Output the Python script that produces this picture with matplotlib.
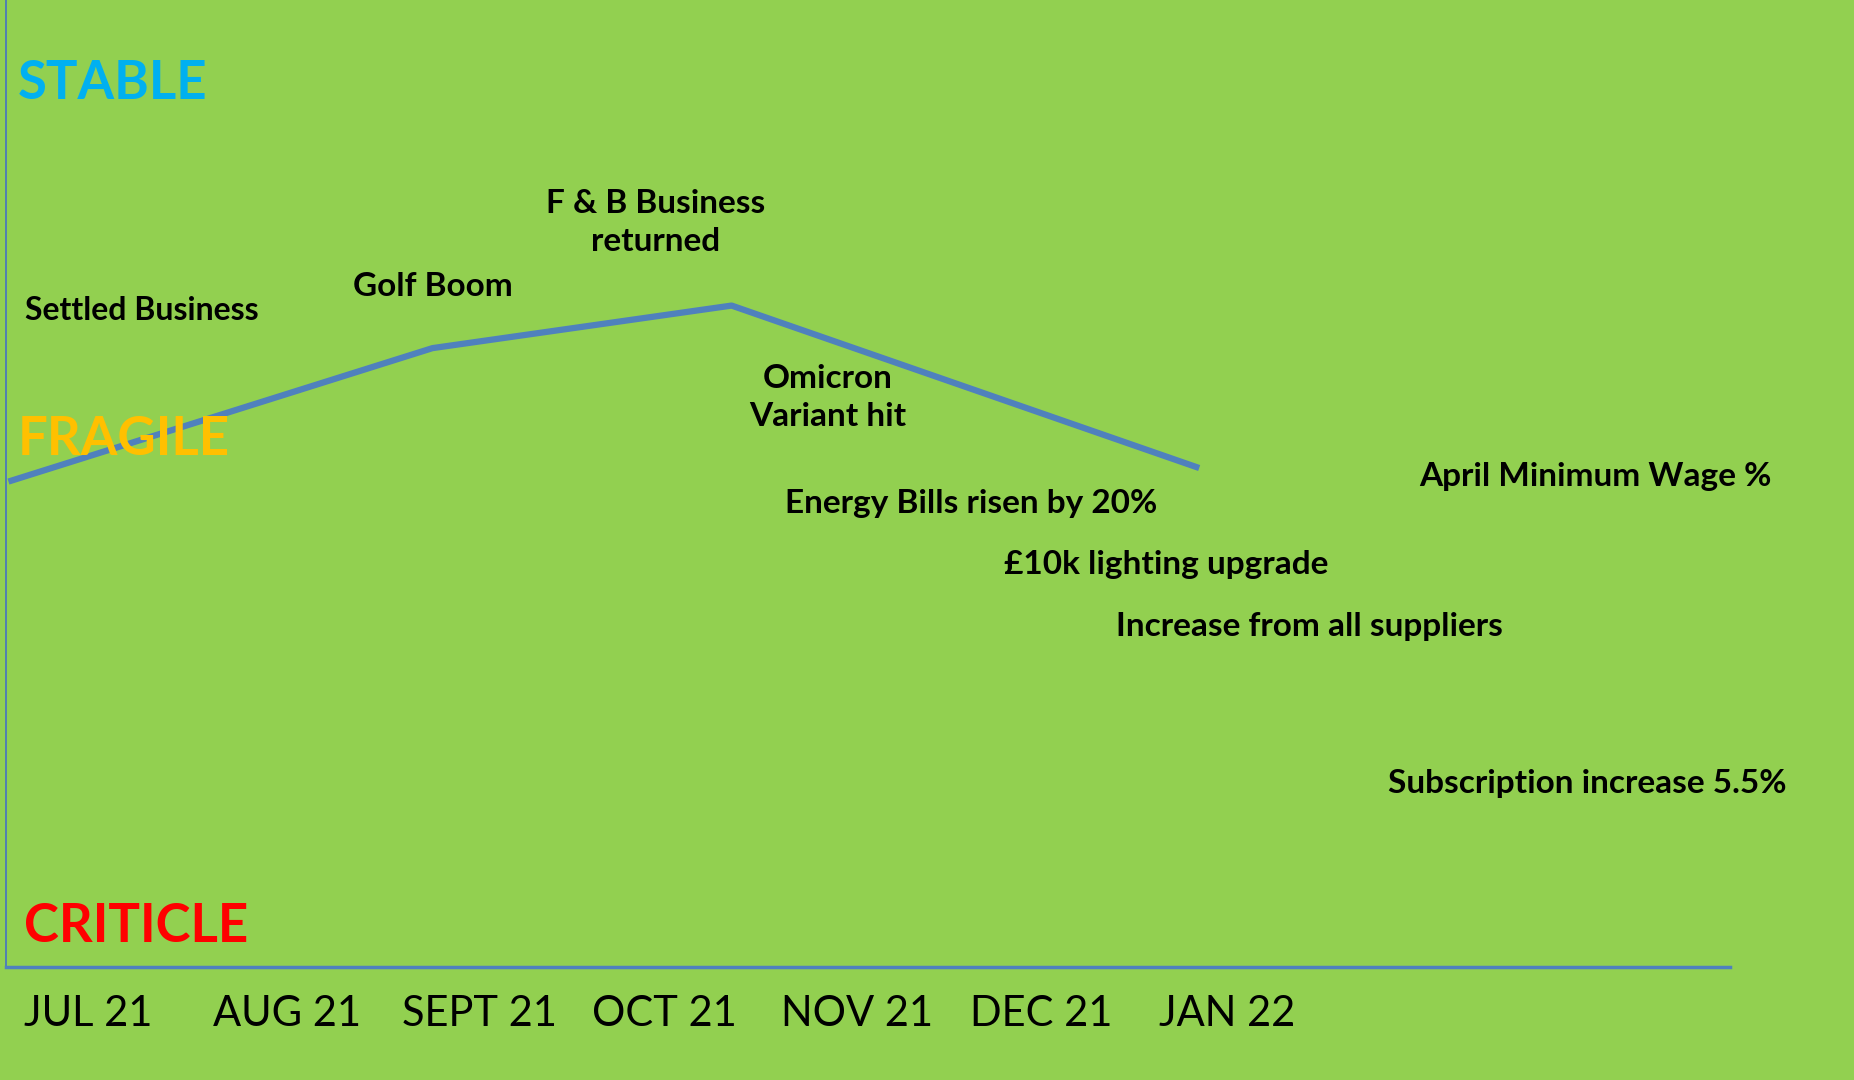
import matplotlib.pyplot as plt

# months on the x axis (tick i = month i)
months = ["JUL 21", "AUG 21", "SEPT 21", "OCT 21", "NOV 21", "DEC 21", "JAN 22"]

# trend line (month position, stability level 0-10)
trend_x = [-0.08, 2.16, 3.74, 6.21]
trend_y = [5.02, 6.40, 6.84, 5.16]

# level labels
levels = ["STABLE", "FRAGILE", "CRITICLE"]
level_x = [-0.03, -0.03, 0.0]
level_y = [9.14, 5.45, 0.42]
level_colors = ["#00B0F0", "#FFC000", "#FF0000"]

# event notes: text, x, y, alignment
notes = ["Settled Business", "Golf Boom", "F & B Business\nreturned",
         "Omicron\nVariant hit", "Energy Bills risen by 20%",
         "£10k lighting upgrade", "Increase from all suppliers",
         "April Minimum Wage %", "Subscription increase 5.5%"]
note_x = [0.007, 2.16, 3.34, 4.25, 4.02, 5.18, 5.77, 7.37, 7.21]
note_y = [6.79, 7.04, 7.70, 5.89, 4.79, 4.16, 3.52, 5.07, 1.90]
note_ha = ["left", "center", "center", "center", "left", "left", "left", "left", "left"]
note_size = [23, 24, 24, 24, 24, 24, 24, 24, 24]

green = "#92D050"
plt.rcParams["font.family"] = ["Lato", "DejaVu Sans"]

fig = plt.figure(figsize=(18.54, 10.8), dpi=100, facecolor=green)
ax = fig.add_axes([6 / 1854, 113 / 1080, 1724 / 1854, 967 / 1080])
ax.set_facecolor(green)
ax.set_xlim(-0.093, 9.014)
ax.set_ylim(0, 10)

for s in ["top", "right"]:
    ax.spines[s].set_visible(False)
ax.spines["left"].set_color("#4472C4")
ax.spines["left"].set_linewidth(1.2)
ax.spines["bottom"].set_color("#4F81BD")
ax.spines["bottom"].set_linewidth(2.5)

ax.plot(trend_x, trend_y, color="#4F81BD", lw=4.5, solid_capstyle="butt")

for lab, x, y, c in zip(levels, level_x, level_y, level_colors):
    ax.text(x, y, lab, color=c, fontsize=38, fontweight="bold",
            ha="left", va="center")

for t, x, y, ha, fs in zip(notes, note_x, note_y, note_ha, note_size):
    ax.text(x, y, t, fontsize=fs, fontweight="bold", ha=ha, va="center",
            linespacing=1.4)

ax.set_yticks([])
ax.set_xticks(range(len(months)))
ax.set_xticklabels(months, ha="left", fontsize=30)
ax.tick_params(axis="x", length=0, pad=20)

plt.savefig("out.png", facecolor=green)
